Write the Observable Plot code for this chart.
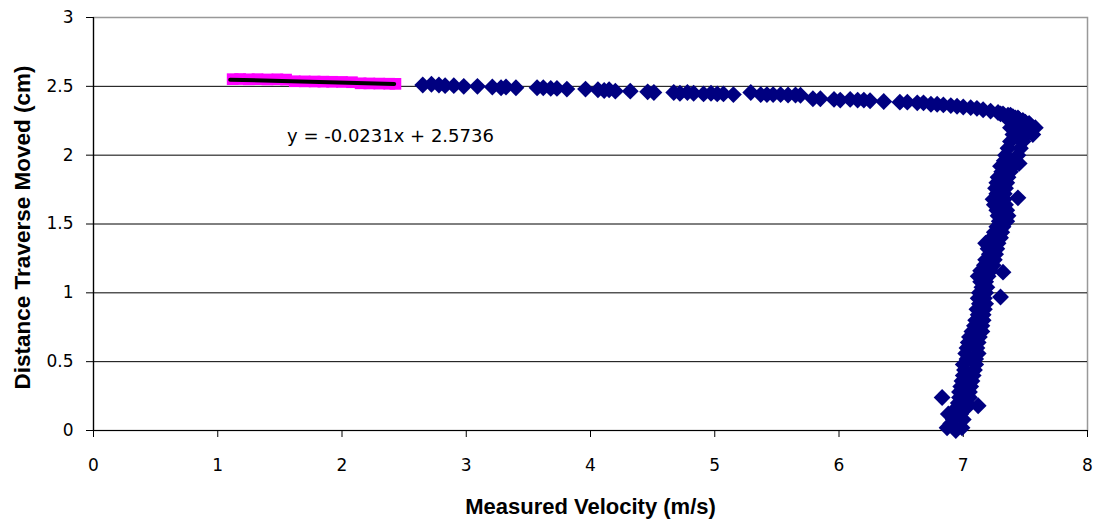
<!DOCTYPE html>
<html><head><meta charset="utf-8">
<script src="https://cdn.jsdelivr.net/npm/d3@7"></script>
<script src="https://cdn.jsdelivr.net/npm/@observablehq/plot@0.6"></script>
<style>html,body{margin:0;padding:0;background:#fff}</style>
</head><body><div id="chart"></div>
<script>
// ---- Data ----
// Trend-fit subset (magenta squares)
const fitVel  = [1.12,1.18,1.25,1.32,1.40,1.48,1.55,1.62,1.70,1.78,1.85,1.92,2.00,2.08,2.15,2.22,2.30,2.38,2.43];
const fitDist = [2.552,2.553,2.551,2.552,2.550,2.551,2.549,2.537,2.536,2.535,2.534,2.533,2.532,2.530,2.522,2.521,2.520,2.519,2.518];

// Near-horizontal part of the traverse
const topVel  = [2.65,2.72,2.78,2.83,2.90,2.98,3.09,3.21,3.28,3.32,3.40,3.57,3.62,3.68,3.73,3.81,3.96,4.06,4.11,4.15,4.20,4.32,4.46,4.51,4.67,4.72,4.78,4.83,4.91,4.97,5.02,5.07,5.15,5.29,5.37,5.42,5.47,5.53,5.59,5.65,5.69,5.79,5.85,5.96,6.01,6.09,6.15,6.20,6.25,6.36,6.49,6.55,6.63,6.68,6.74,6.79,6.84,6.90,6.95,7.00,7.06,7.11,7.16,7.22,7.28,7.32,7.38,7.44,7.48];
const topDist = [2.510,2.515,2.510,2.505,2.505,2.500,2.500,2.495,2.490,2.495,2.490,2.490,2.490,2.485,2.485,2.480,2.480,2.475,2.470,2.475,2.465,2.465,2.460,2.455,2.455,2.450,2.455,2.450,2.445,2.450,2.445,2.445,2.440,2.455,2.440,2.440,2.440,2.440,2.437,2.437,2.435,2.410,2.410,2.405,2.400,2.405,2.400,2.400,2.395,2.390,2.385,2.385,2.380,2.380,2.370,2.370,2.365,2.360,2.355,2.350,2.345,2.340,2.330,2.320,2.310,2.300,2.290,2.270,2.250];

// Bend near the wall
const bendVel  = [7.40,7.45,7.50,7.54,7.58,7.55,7.50,7.46,7.42,7.52,7.46,7.44,7.50,7.56,7.35,7.30,7.36,7.42,7.48,7.53,7.38];
const bendDist = [2.280,2.260,2.240,2.220,2.200,2.190,2.200,2.220,2.240,2.170,2.170,2.130,2.140,2.200,2.270,2.300,2.290,2.270,2.250,2.230,2.200];

// Steep falling part
const fallVel  = [7.40,7.49,7.56,7.38,7.48,7.36,7.46,7.34,7.44,7.33,7.42,7.45,7.30,7.40,7.31,7.38,7.28,7.36,7.27,7.35,7.26,7.34,7.27,7.33,7.44,7.24,7.33,7.25,7.34,7.27,7.35,7.28,7.36,7.29,7.35,7.27,7.32,7.25,7.31,7.23,7.30,7.18,7.28,7.20,7.27,7.21,7.26,7.18,7.25,7.17,7.24,7.14,7.22,7.32,7.12,7.20,7.14,7.18,7.15,7.19,7.13,7.18,7.30,7.12,7.17,7.13,7.18,7.11,7.17,7.12,7.16,7.10,7.16,7.09,7.15,7.07,7.15,7.05,7.13,7.04,7.12,7.03,7.11,7.02,7.12,7.03,7.10,7.00,7.10,7.01,7.09,7.00,7.08,6.99,7.07,6.98,7.06,6.97,7.05,6.83,6.97,7.05,6.96,7.03,7.12,6.94,7.02,6.88,6.98,6.92,7.00,6.90,6.87,6.99,6.94];
const fallDist = [2.150,2.150,2.150,2.100,2.100,2.050,2.050,2.000,2.000,1.960,1.960,1.940,1.920,1.920,1.880,1.880,1.840,1.840,1.800,1.800,1.760,1.760,1.720,1.720,1.690,1.680,1.680,1.640,1.640,1.600,1.600,1.560,1.560,1.520,1.520,1.480,1.480,1.440,1.440,1.400,1.400,1.360,1.360,1.320,1.320,1.280,1.280,1.240,1.240,1.200,1.200,1.160,1.160,1.150,1.120,1.120,1.080,1.080,1.040,1.040,1.000,1.000,0.970,0.960,0.960,0.920,0.920,0.880,0.880,0.840,0.840,0.800,0.800,0.760,0.760,0.720,0.720,0.680,0.680,0.640,0.640,0.600,0.600,0.560,0.560,0.520,0.520,0.480,0.480,0.440,0.440,0.400,0.400,0.360,0.360,0.320,0.320,0.280,0.280,0.240,0.240,0.240,0.200,0.200,0.180,0.160,0.160,0.120,0.120,0.080,0.080,0.050,0.020,0.020,0.000];

// Trendline equation shown on chart
const trendSlope = -0.0231;
const trendIntercept = 2.5736;
const trendVel = [1.10, 2.42];
const trendLabel = "y = -0.0231x + 2.5736";
const trendLabelPos = {x: 2.39, y: 2.14};

// Axes
const xTicks = [0,1,2,3,4,5,6,7,8];
const yTicks = [0,0.5,1,1.5,2,2.5,3];
const gridY  = [0.5,1,1.5,2,2.5];
const xTitle = "Measured Velocity (m/s)";
const yTitle = "Distance Traverse Moved (cm)";

// ---- Build tables ----
const zip = (xs, ys) => xs.map((x, i) => ({v: x, d: ys[i]}));
const fitPts = zip(fitVel, fitDist);
const bluePts = [...zip(topVel, topDist), ...zip(bendVel, bendDist), ...zip(fallVel, fallDist)];
const trendPts = trendVel.map(v => ({v, d: trendSlope * v + trendIntercept}));

const tickFont = "DejaVu Sans";
const fmt = d => String(d);
const chart = Plot.plot({
  width: 1099,
  height: 523,
  marginLeft: 93,
  marginRight: 12,
  marginTop: 17,
  marginBottom: 93,
  style: {background: "#fff", color: "#000", fontFamily: tickFont, fontSize: "17px"},
  x: {domain: [0, 8]},
  y: {domain: [0, 3]},
  marks: [
    Plot.frame({stroke: "#999", strokeWidth: 1.5}),
    Plot.ruleY(gridY, {stroke: "#000", strokeWidth: 1}),
    Plot.ruleY([0], {stroke: "#000", strokeWidth: 1.2}),
    Plot.ruleX([0], {stroke: "#000", strokeWidth: 1.2}),
    Plot.axisX({ticks: xTicks, tickFormat: fmt, tickSize: 7, tickPadding: 21, label: null, fontSize: 17, fontFamily: tickFont, stroke: "#000"}),
    Plot.axisY({ticks: yTicks, tickFormat: fmt, tickSize: 7, tickPadding: 13, label: null, fontSize: 17, fontFamily: tickFont, stroke: "#000"}),
    Plot.dot(fitPts, {x: "v", y: "d", symbol: "square", r: 6.6, fill: "#ff00ff", stroke: "none"}),
    Plot.line(trendPts, {x: "v", y: "d", stroke: "#000", strokeWidth: 4}),
    Plot.dot(bluePts, {x: "v", y: "d", symbol: "diamond2", r: 7.6, fill: "#000080", stroke: "none"}),
    Plot.text([trendLabel], {x: () => trendLabelPos.x, y: () => trendLabelPos.y, text: d => d, fontSize: 18, fontFamily: tickFont, fill: "#000"}),
    Plot.text([xTitle], {frameAnchor: "bottom", text: d => d, lineAnchor: "top", dy: 68, fontSize: 22, fontWeight: "bold", fontFamily: "Liberation Sans", fill: "#000"}),
    Plot.text([yTitle], {frameAnchor: "left", text: d => d, textAnchor: "middle", rotate: -90, lineAnchor: "middle", dx: -71, dy: 3.5, fontSize: 22.5, fontWeight: "bold", fontFamily: "Liberation Sans", fill: "#000"})
  ]
});
document.getElementById("chart").appendChild(chart);
</script></body></html>
